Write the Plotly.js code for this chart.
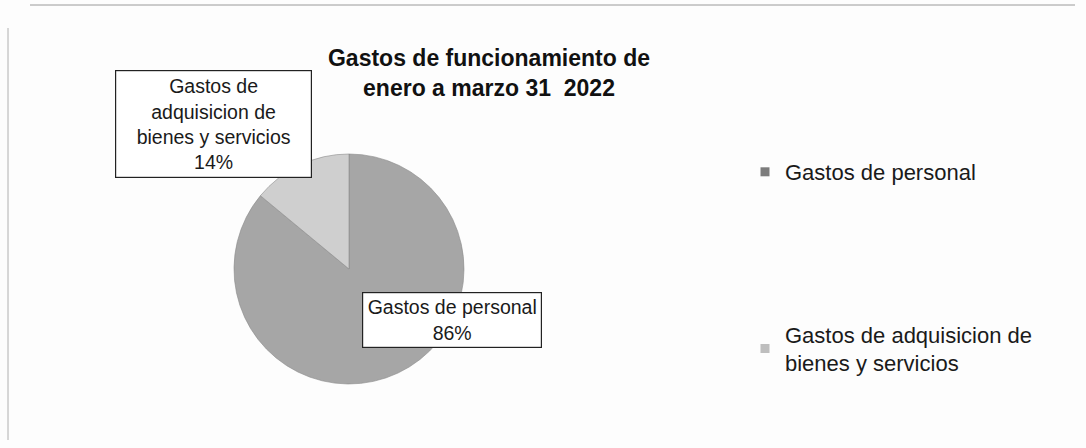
<!DOCTYPE html>
<html>
<head>
<meta charset="utf-8">
<script src="https://cdn.plot.ly/plotly-3.0.1.min.js"></script>
<style>html,body{margin:0;padding:0;background:#fdfdfd;}#chart{width:1086px;height:448px;}</style>
</head>
<body>
<div id="chart"></div>
<script>
// Data
const categories = ["Gastos de personal", "Gastos de adquisicion de bienes y servicios"];
const values = [86, 14];
const legendLabels = ["Gastos de personal", "Gastos de adquisicion de<br>bienes y servicios"];
const dataLabels = ["Gastos de personal", "Gastos de<br>adquisicion de<br>bienes y servicios"];
const titleText = "Gastos de funcionamiento de<br>enero a marzo 31  2022";

const sliceColors = ["#a6a6a6", "#cfcfcf"];
const legendColors = ["#7c7c7c", "#bebebe"];
const FONT = "Liberation Sans, Arial, sans-serif";

const total = values.reduce((a, b) => a + b, 0);
const pct = values.map(v => Math.round(v / total * 100) + "%");

const W = 1086, H = 448;

const pie = {
  type: "pie",
  labels: categories,
  values: values,
  sort: false,
  direction: "clockwise",
  rotation: 0,
  textinfo: "none",
  hoverinfo: "label+percent",
  marker: { colors: sliceColors, line: { color: "#8a8a8a", width: 0.6 } },
  domain: { x: [234 / W, 464 / W], y: [1 - 384 / H, 1 - 154 / H] },
  showlegend: false
};

const legendTraces = categories.map((c, i) => ({
  type: "scatter",
  mode: "markers",
  x: [null], y: [null],
  name: legendLabels[i],
  marker: { symbol: "square", size: 9, color: legendColors[i] },
  legend: i === 0 ? "legend" : "legend2",
  hoverinfo: "skip"
}));

const legendStyle = {
  font: { family: FONT, size: 22, color: "#1a1a1a" },
  bgcolor: "rgba(0,0,0,0)",
  xanchor: "left", yanchor: "middle",
  itemwidth: 30,
  tracegroupgap: 0
};

const labelFont = { family: FONT, size: 19.5, color: "#1a1a1a" };

const layout = {
  width: W, height: H,
  margin: { l: 0, r: 0, t: 0, b: 0 },
  paper_bgcolor: "#fdfdfd",
  plot_bgcolor: "rgba(0,0,0,0)",
  font: { family: FONT, color: "#1a1a1a" },
  title: {
    text: titleText,
    font: { family: FONT, size: 23, color: "#111", weight: "bold" },
    x: 489 / W, xanchor: "center",
    y: 1 - 66 / H, yanchor: "middle"
  },
  xaxis: { visible: false, range: [0, 1] },
  yaxis: { visible: false, range: [0, 1] },
  legend: Object.assign({ x: 745 / W, y: 1 - 172 / H }, legendStyle),
  legend2: Object.assign({ x: 745 / W, y: 1 - 349 / H }, legendStyle),
  annotations: [
    {
      xref: "paper", yref: "paper",
      x: 213.5 / W, y: 1 - 124 / H,
      xanchor: "center", yanchor: "middle",
      text: dataLabels[1] + "<br>" + pct[1],
      showarrow: false,
      font: labelFont,
      bgcolor: "#ffffff", bordercolor: "#222", borderwidth: 1.2,
      borderpad: 4, width: 187, align: "center"
    },
    {
      xref: "paper", yref: "paper",
      x: 452 / W, y: 1 - 320 / H,
      xanchor: "center", yanchor: "middle",
      text: dataLabels[0] + "<br>" + pct[0],
      showarrow: false,
      font: labelFont,
      bgcolor: "#ffffff", bordercolor: "#222", borderwidth: 1.2,
      borderpad: 3, width: 172, align: "center"
    }
  ],
  shapes: [
    { type: "line", xref: "paper", yref: "paper", x0: 30 / W, x1: 1075 / W, y0: 1 - 5 / H, y1: 1 - 5 / H, line: { color: "#9a9a9a", width: 1 } },
    { type: "line", xref: "paper", yref: "paper", x0: 8 / W, x1: 8 / W, y0: 1 - 28 / H, y1: 1 - 440 / H, line: { color: "#b0b0b0", width: 1 } }
  ]
};

Plotly.newPlot("chart", [pie].concat(legendTraces), layout, { displayModeBar: false, staticPlot: true });
</script>
</body>
</html>
